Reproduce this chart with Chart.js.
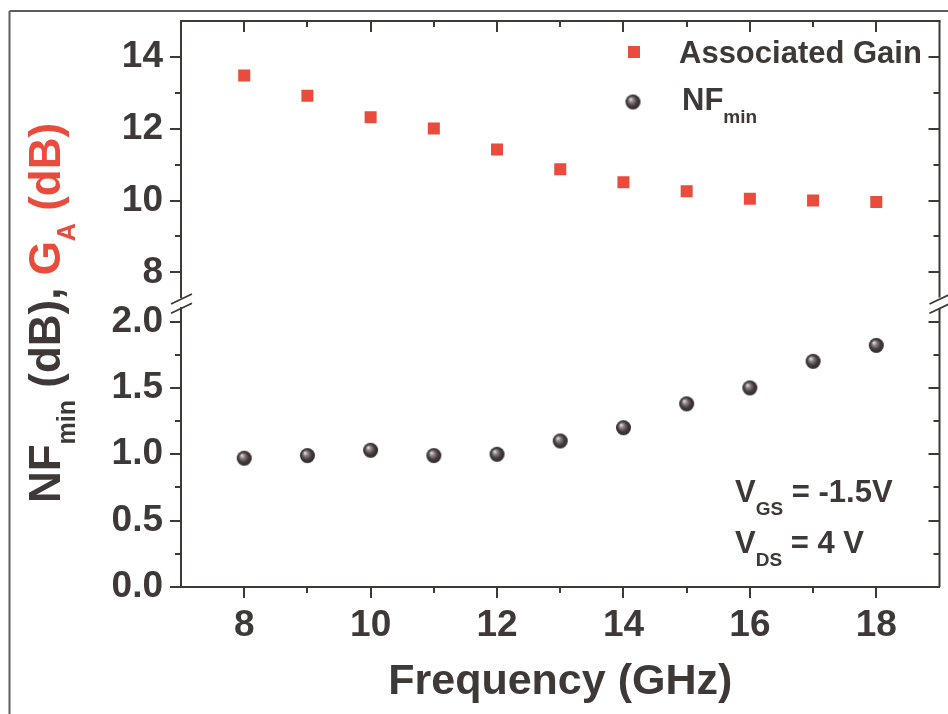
<!DOCTYPE html>
<html>
<head>
<meta charset="utf-8">
<script src="https://cdn.jsdelivr.net/npm/chart.js@4.4.1/dist/chart.umd.min.js"></script>
<style>
  html, body { margin: 0; padding: 0; background: #fff; }
  #wrap { width: 948px; height: 714px; }
</style>
</head>
<body>
<div id="wrap"><canvas id="chart" width="948" height="714"></canvas></div>
<script>
// measured points, 8-18 GHz
const freq = [8, 9, 10, 11, 12, 13, 14, 15, 16, 17, 18];
const gainDb = [13.48, 12.92, 12.32, 12.01, 11.42, 10.87, 10.51, 10.26, 10.05, 10.0, 9.96];
const nfMinDb = [0.97, 0.99, 1.03, 0.99, 1.0, 1.1, 1.2, 1.38, 1.5, 1.7, 1.82];

// axis ticks (major get labels, minor are marks only)
const xTicks = [8, 10, 12, 14, 16, 18];
const xMinor = [9, 11, 13, 15, 17];
const gainTicks = [8, 10, 12, 14];
const gainMinor = [9, 11, 13];
const nfTicks = [0, 0.5, 1.0, 1.5, 2.0];
const nfMinor = [0.25, 0.75, 1.25, 1.75];

const INK = '#3e3937';
const RED = '#e94b3c';
const FONT = "'Liberation Sans', Arial, sans-serif";

Chart.defaults.font.family = FONT;
Chart.defaults.color = INK;

// shaded ball used for the NFmin markers
function makeSphere(r) {
  const c = document.createElement('canvas');
  const d = Math.ceil(r * 2 + 2);
  c.width = c.height = d;
  const g = c.getContext('2d');
  const cx = d / 2, cy = d / 2;
  const grad = g.createRadialGradient(cx - r * 0.35, cy - r * 0.4, 0, cx, cy, r);
  grad.addColorStop(0, '#f4f2f1');
  grad.addColorStop(0.3, '#8e8786');
  grad.addColorStop(0.65, '#463e3c');
  grad.addColorStop(1, '#2d2726');
  g.fillStyle = grad;
  g.beginPath();
  g.arc(cx, cy, r, 0, Math.PI * 2);
  g.fill();
  return c;
}
const sphere = makeSphere(7.5);

function fixedTicks(list) {
  return scale => { scale.ticks = list.map(v => ({value: v})); };
}

// y scales: fixed width, no extra room for half labels at the ends
function fitY(scale) {
  scale.width = 181;
  scale.paddingTop = 0;
  scale.paddingBottom = 0;
}

// draws a run of text pieces with optional subscripts, returns total width
function richText(ctx, parts, x, y, size, subSize, subShift, measureOnly) {
  let cx = x;
  for (const p of parts) {
    const s = p.sub ? subSize : size;
    ctx.font = 'bold ' + s + 'px ' + FONT;
    if (!measureOnly) {
      ctx.fillStyle = p.color || INK;
      ctx.fillText(p.text, cx, p.sub ? y + subShift : y);
    }
    cx += ctx.measureText(p.text).width;
  }
  return cx - x;
}

const yTitle = [
  {text: 'NF'},
  {text: 'min', sub: true},
  {text: ' (dB), '},
  {text: 'G', color: RED},
  {text: 'A', color: RED, sub: true},
  {text: ' (dB)', color: RED}
];

const decorations = {
  id: 'decorations',
  afterDraw(chart) {
    const {ctx, chartArea: a, scales} = chart;
    const sx = scales.x, ga = scales.yGA, nf = scales.yNF;
    const seg = (x1, y1, x2, y2) => {
      ctx.beginPath(); ctx.moveTo(x1, y1); ctx.lineTo(x2, y2); ctx.stroke();
    };
    ctx.save();

    // outer frame
    ctx.strokeStyle = '#5c5c5c';
    ctx.lineWidth = 2;
    seg(9.5, 11, 948, 11);
    seg(9.5, 11, 9.5, 714);

    // top and right axis lines
    ctx.strokeStyle = INK;
    ctx.lineWidth = 2;
    seg(a.left, a.top, a.right + 1, a.top);
    seg(a.right, ga.top, a.right, ga.bottom);
    seg(a.right, nf.top, a.right, nf.bottom);

    // tick marks: outward on left/bottom, inward on top/right
    const major = 11, minor = 6;
    const xMark = (v, len) => {
      const p = Math.round(sx.getPixelForValue(v));
      seg(p, a.bottom, p, a.bottom + len);
      seg(p, a.top, p, a.top + len);
    };
    const yMark = (sc, v, len) => {
      const p = Math.round(sc.getPixelForValue(v));
      seg(a.left - len, p, a.left, p);
      seg(a.right - len, p, a.right, p);
    };
    xTicks.forEach(v => xMark(v, major));
    xMinor.forEach(v => xMark(v, minor));
    gainTicks.forEach(v => yMark(ga, v, major));
    gainMinor.forEach(v => yMark(ga, v, minor));
    nfTicks.forEach(v => yMark(nf, v, major));
    nfMinor.forEach(v => yMark(nf, v, minor));

    // axis break marks
    ctx.lineWidth = 1.8;
    const b1 = ga.bottom + 1.5, b2 = nf.top;
    [a.left, a.right].forEach(x => {
      seg(x - 10, b1 + 5, x + 11, b1 - 5);
      seg(x - 10, b2 + 5, x + 11, b2 - 5);
    });

    // rotated y axis title
    ctx.textBaseline = 'alphabetic';
    ctx.textAlign = 'left';
    const w = richText(ctx, yTitle, 0, 0, 44, 25, 15, true);
    ctx.save();
    ctx.translate(60, 313 + w / 2);
    ctx.rotate(-Math.PI / 2);
    richText(ctx, yTitle, 0, 0, 44, 25, 15);
    ctx.restore();

    // legend
    ctx.fillStyle = RED;
    ctx.fillRect(628, 46, 12, 12);
    richText(ctx, [{text: 'Associated Gain'}], 679, 63, 31, 19, 13);
    ctx.drawImage(sphere, 633 - sphere.width / 2, 102 - sphere.height / 2);
    richText(ctx, [{text: 'NF'}, {text: 'min', sub: true}], 682, 110, 31, 19, 13);

    // bias conditions
    richText(ctx, [{text: 'V'}, {text: 'GS', sub: true}, {text: ' = -1.5V'}], 735, 502, 31, 19, 13);
    richText(ctx, [{text: 'V'}, {text: 'DS', sub: true}, {text: ' = 4 V'}], 735, 553, 31, 19, 13);

    ctx.restore();
  }
};

const tickFont = {size: 37, weight: 'bold'};

new Chart(document.getElementById('chart'), {
  type: 'scatter',
  data: {
    datasets: [
      {
        label: 'Associated Gain',
        data: freq.map((f, i) => ({x: f, y: gainDb[i]})),
        yAxisID: 'yGA',
        pointStyle: 'rect',
        pointRadius: 8.5,
        pointBackgroundColor: RED,
        pointBorderWidth: 0
      },
      {
        label: 'NFmin',
        data: freq.map((f, i) => ({x: f, y: nfMinDb[i]})),
        yAxisID: 'yNF',
        pointStyle: sphere,
        pointRadius: 7.5
      }
    ]
  },
  options: {
    responsive: false,
    animation: false,
    layout: {padding: {top: 21, right: 7, bottom: 0, left: 0}},
    plugins: {legend: {display: false}, tooltip: {enabled: false}},
    scales: {
      x: {
        type: 'linear',
        min: 7,
        max: 19,
        afterBuildTicks: fixedTicks(xTicks),
        afterFit: s => { s.height = 127; s.paddingLeft = 0; s.paddingRight = 0; },
        grid: {display: false, drawTicks: false},
        border: {display: true, color: INK, width: 2},
        ticks: {font: tickFont, color: INK, padding: 17, autoSkip: false, maxRotation: 0},
        title: {
          display: true,
          text: 'Frequency (GHz)',
          font: {size: 43, weight: 'bold'},
          color: INK,
          padding: {top: 0, bottom: 6}
        }
      },
      yNF: {
        type: 'linear',
        position: 'left',
        stack: 'y',
        stackWeight: 278.9,
        weight: 1,
        min: 0,
        max: 2.1,
        afterBuildTicks: fixedTicks(nfTicks),
        afterFit: fitY,
        grid: {display: false, drawTicks: false},
        border: {display: true, color: INK, width: 2},
        ticks: {font: tickFont, color: INK, padding: 18, autoSkip: false, callback: v => v.toFixed(1)}
      },
      yGap: {
        type: 'linear',
        position: 'left',
        stack: 'y',
        stackWeight: 10.7,
        weight: 2,
        min: 0,
        max: 1,
        afterFit: fitY,
        grid: {display: false, drawTicks: false},
        border: {display: false},
        ticks: {display: false}
      },
      yGA: {
        type: 'linear',
        position: 'left',
        stack: 'y',
        stackWeight: 276.7,
        weight: 3,
        min: 7.3,
        max: 15,
        afterBuildTicks: fixedTicks(gainTicks),
        afterFit: fitY,
        grid: {display: false, drawTicks: false},
        border: {display: true, color: INK, width: 2},
        ticks: {font: tickFont, color: INK, padding: 18, autoSkip: false}
      }
    }
  },
  plugins: [decorations]
});
</script>
</body>
</html>
